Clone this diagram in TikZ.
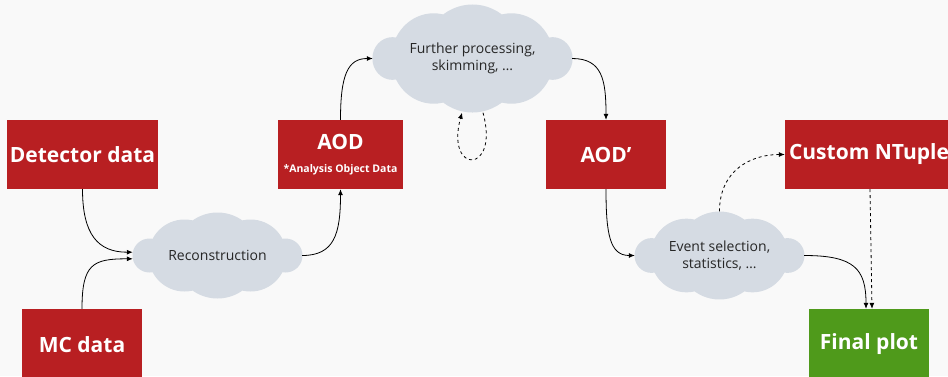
\documentclass[tikz,border=0pt]{standalone}
\usepackage{fontspec}
\setmainfont{Open Sans}
\usetikzlibrary{arrows.meta}
\definecolor{boxred}{HTML}{B81F22}
\definecolor{boxgreen}{HTML}{4F9A1B}
\definecolor{cloudc}{HTML}{D5DBE3}
\definecolor{bgc}{HTML}{F9F9F9}
\definecolor{txtc}{HTML}{262626}
\pgfdeclarelayer{bg}
\pgfsetlayers{bg,main}
\newcommand{\mycloud}[3]{%
  \begin{pgfonlayer}{bg}
  \begin{scope}[shift={(#1.center)},xscale=#2,yscale=#3]
    \fill[cloudc] (-68,0) circle[radius=17] (68,0) circle[radius=17]
      (-33,0) circle[radius=36] (33,0) circle[radius=36] (0,0) circle[radius=43];
  \end{scope}
  \end{pgfonlayer}}
\begin{document}
\begin{tikzpicture}[x=1pt,y=-1pt,
  redbox/.style={fill=boxred, text=white, inner sep=0pt, font=\bfseries\fontsize{21}{25}\selectfont},
  greenbox/.style={redbox, fill=boxgreen},
  boxtext/.style={text=white, inner sep=0pt, font=\bfseries\fontsize{21}{25}\selectfont},
  subtext/.style={text=white, inner sep=0pt, font=\bfseries\fontsize{10.5}{13}\selectfont},
  cloudnode/.style={inner sep=0pt, text=txtc, align=center, font=\fontsize{14}{17}\selectfont},
  conn/.style={-{Latex[length=6pt,width=5pt]}, line width=0.8pt, draw=black},
  dconn/.style={conn, dash pattern=on 3pt off 3pt}]
\useasboundingbox (0,0) rectangle (948,376);
\begin{pgfonlayer}{bg}
\fill[bgc] (0,0) rectangle (948,376);
\end{pgfonlayer}
\clip (0,0) rectangle (948,376);
% boxes
\node[redbox, minimum width=151pt, minimum height=69pt] (det) at (82.5,154.5) {Detector data};
\node[redbox, minimum width=120pt, minimum height=71pt] (mc) at (82,344.5) {MC data};
\node[redbox, minimum width=125pt, minimum height=69pt] (aod) at (340.5,154.5) {};
\node[boxtext] (aodt) at (340.5,142) {AOD};
\node[subtext] (aods) at (340.5,170) {*Analysis Object Data};
\node[redbox, minimum width=120pt, minimum height=69pt] (aodp) at (606,154.5) {AOD’};
\node[redbox, minimum width=168pt, minimum height=69pt] (nt) at (869,154.5) {Custom NTuple};
\node[greenbox, minimum width=120pt, minimum height=70pt] (fin) at (869,344) {Final plot};
% clouds
\node[cloudnode, minimum width=169pt, minimum height=86pt] (rec) at (217.5,255.5) {Reconstruction};
\node[cloudnode, minimum width=199pt, minimum height=108pt] (fur) at (472.5,58.5) {Further processing,\\skimming, …};
\node[cloudnode, minimum width=169pt, minimum height=88pt] (evt) at (719.5,255.5) {Event selection,\\statistics, …};
\mycloud{rec}{1}{1}
\mycloud{fur}{1.178}{1.256}
\mycloud{evt}{1}{1.023}
% connectors
\draw[conn] (det.south) .. controls +(0,45) and +(-35,0) .. ([yshift=3.3pt]rec.west);
\draw[conn] (mc.north) .. controls +(0,-45) and +(-40,0) .. ([yshift=-3.3pt]rec.west);
\draw[conn] (rec.east) .. controls +(32,0) and +(0,45) .. (aod.south);
\draw[conn] (aod.north) .. controls +(0,-45) and +(-25,0) .. (fur.west);
\draw[conn] (fur.east) .. controls +(30,0) and +(0,-40) .. (aodp.north);
\coordinate (lpa) at ([xshift=10.5pt]fur.south);
\coordinate (lpb) at ([xshift=-10.5pt]fur.south);
\draw[dconn] (lpa) .. controls +(17,62) and +(-17,62) .. (lpb);
\draw[conn] (aodp.south) .. controls +(0,45) and +(-25,0) .. (evt.west);
\draw[dconn] (evt.north) .. controls +(0,-40) and +(-35,0) .. (nt.west);
\draw[conn] (evt.east) .. controls +(50,0) and +(0,-40) .. ([xshift=-3pt]fin.north);
\draw[dconn] ([xshift=1pt]nt.south) -- ([xshift=3pt]fin.north);
\end{tikzpicture}
\end{document}
